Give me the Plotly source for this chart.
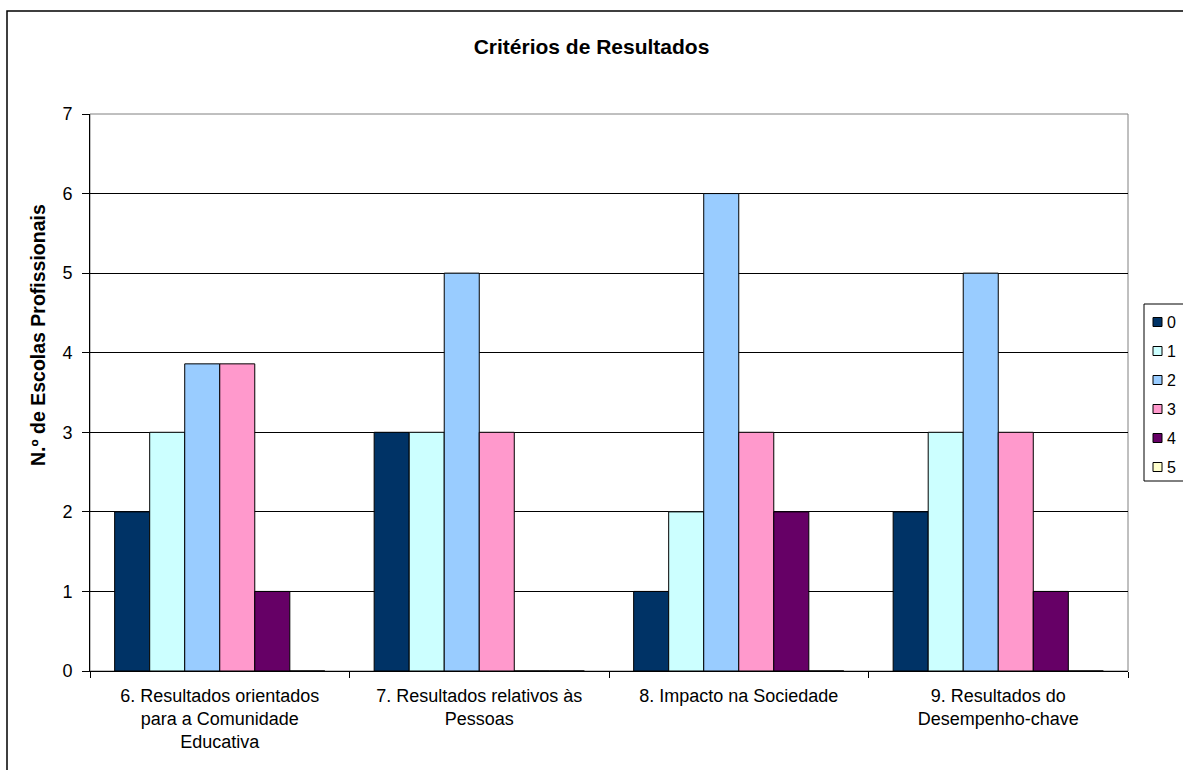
import plotly.graph_objects as go

categories = [
    "6. Resultados orientados<br>para a Comunidade<br>Educativa",
    "7. Resultados relativos às<br>Pessoas",
    "8. Impacto na Sociedade",
    "9. Resultados do<br>Desempenho-chave",
]
series_names = ["0", "1", "2", "3", "4", "5"]
s0 = [2, 3, 1, 2]
s1 = [3, 3, 2, 3]
s2 = [3.86, 5, 6, 5]
s3 = [3.86, 3, 3, 3]
s4 = [1, 0, 2, 1]
s5 = [0, 0, 0, 0]
series_values = [s0, s1, s2, s3, s4, s5]
colors = ["#003366", "#CCFFFF", "#99CCFF", "#FF99CC", "#660066", "#FFFFCC"]
y_ticks = [0, 1, 2, 3, 4, 5, 6, 7]

FONT = "Liberation Sans, Arial, sans-serif"

fig = go.Figure()
for name, vals, col in zip(series_names, series_values, colors):
    fig.add_trace(go.Bar(
        name=name, x=categories, y=vals, showlegend=False,
        marker=dict(color=col, line=dict(color="black", width=1)),
    ))

W, H = 1183, 770
L, R, T, B = 90, 55, 114, 99
pw, ph = W - L - R, H - T - B


def px_x(p):
    return (p - L) / pw


def px_y(p):
    return 1 - (p - T) / ph


shapes = [
    dict(type="rect", xref="paper", yref="paper", x0=0, x1=1, y0=0, y1=1,
         line=dict(color="#808080", width=1), layer="below"),
    dict(type="rect", xref="paper", yref="paper",
         x0=px_x(7), x1=px_x(W + 20), y0=px_y(H + 20), y1=px_y(11),
         line=dict(color="black", width=1.5)),
    # legend box
    dict(type="rect", xref="paper", yref="paper",
         x0=px_x(1144), x1=px_x(W + 20), y0=px_y(481), y1=px_y(304),
         line=dict(color="black", width=1), fillcolor="white"),
]
annotations = [dict(text="<b>N.º de Escolas Profissionais</b>", textangle=-90,
                    x=px_x(38), y=px_y(335), xref="paper", yref="paper",
                    showarrow=False, xanchor="center", yanchor="middle",
                    font=dict(family=FONT, size=19.5, color="black"))]
for i, (name, col) in enumerate(zip(series_names, colors)):
    cy = 322 + 29 * i
    shapes.append(dict(type="rect", xref="paper", yref="paper",
                       x0=px_x(1153), x1=px_x(1162), y0=px_y(cy + 4.5), y1=px_y(cy - 4.5),
                       line=dict(color="black", width=1), fillcolor=col))
    annotations.append(dict(text=name, x=px_x(1165), y=px_y(cy), xref="paper", yref="paper",
                            showarrow=False, xanchor="left", yanchor="middle",
                            font=dict(family=FONT, size=16, color="black")))

fig.update_layout(
    width=W, height=H,
    margin=dict(l=L, r=R, t=T, b=B, autoexpand=False),
    paper_bgcolor="white", plot_bgcolor="white",
    barmode="group", bargap=0.19, bargroupgap=0,
    font=dict(family=FONT, size=18, color="black"),
    title=dict(text="<b>Critérios de Resultados</b>", x=0.5, xref="container",
               y=1 - 47 / H, yanchor="middle", xanchor="center",
               font=dict(family=FONT, size=21, color="black")),
    showlegend=False,
    xaxis=dict(showline=True, linecolor="black", linewidth=1, ticks="outside",
               tickson="boundaries", ticklen=6, tickcolor="black",
               ticklabelstandoff=8,
               tickfont=dict(family=FONT, size=18), showgrid=False),
    yaxis=dict(range=[0, 7], tickvals=y_ticks, showline=True, linecolor="black",
               linewidth=1, ticks="outside", ticklen=7, tickcolor="black",
               ticklabelstandoff=6,
               showgrid=True, gridcolor="black", gridwidth=1, zeroline=False,
               tickfont=dict(family=FONT, size=18)),
    annotations=annotations,
    shapes=shapes,
)

fig.write_html("out.html")
